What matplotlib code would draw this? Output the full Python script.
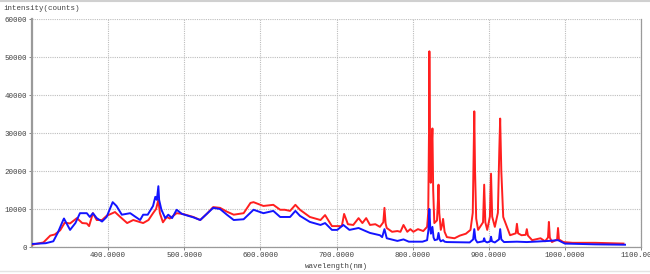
import matplotlib
matplotlib.use("Agg")
import matplotlib.pyplot as plt
from matplotlib.lines import Line2D

# ---- data ----
red_nm = [300, 315, 324, 330, 337, 343, 350, 359, 366, 372, 375, 380, 385, 392, 398,
          409, 416, 425, 433, 446, 453, 459, 463, 466, 468, 472, 477, 481, 490, 498,
          512, 521, 530, 538, 547, 556, 565, 578, 587, 591, 604, 617, 626, 632, 639,
          646, 652, 665, 679, 685, 694, 707, 710, 715, 722, 729, 734, 739, 744, 751,
          757, 761.5, 763, 764.5, 766, 773, 780, 784, 788, 793, 797, 801, 807, 814, 819,
          820.5, 821.5, 822, 822.8, 823.8, 825, 826, 827, 828.5, 832, 833.2, 834, 835, 837,
          839, 840, 842, 845, 855, 862, 870, 876, 879, 880.2, 881, 882, 883.5, 886,
          892.5, 894, 895.5, 898, 901.5, 903, 904.5, 908, 912, 913.8, 915, 916.5, 919,
          928, 935.5, 937, 938.5, 943, 948.5, 950, 951.5, 957, 968, 974, 977.8, 979,
          980.2, 983, 989.8, 991, 992.2, 998, 1010, 1040, 1077]
red_val = [600, 1200, 3000, 3300, 4400, 6400, 6200, 7600, 6300, 6200, 5500, 8900, 7100, 7100, 8200,
           9200, 7900, 6300, 7100, 6300, 7100, 8900, 10000, 12400, 8900, 6500, 7900, 7500, 8900, 8700,
           7900, 7100, 8800, 10500, 10300, 9300, 8500, 8900, 11600, 11800, 10800, 11100, 9800, 9800, 9500,
           11100, 9800, 7900, 7100, 8400, 5500, 5500, 8700, 6000, 5800, 7600, 6300, 7600, 5800, 6000,
           5300, 6500, 10300, 6200, 5000, 4000, 4200, 4000, 5800, 4000, 4700, 4000, 4700, 4200, 5300,
           9000, 30000, 51500, 30000, 16900, 26000, 31200, 15000, 6300, 7000, 12000, 16400, 9000, 4500,
           6000, 7400, 4000, 2600, 2300, 3000, 3500, 4500, 9000, 25000, 35700, 20000, 7500, 4500,
           6500, 16400, 6500, 4500, 8000, 19300, 8000, 5300, 9000, 25000, 33800, 20000, 7900,
           3100, 3600, 6100, 3600, 3100, 3200, 4700, 3000, 1800, 2300, 1500, 2500, 6600,
           2500, 1300, 2000, 5000, 2000, 1300, 1100, 1100, 900]

blue_nm = [300, 318, 328, 334, 341, 342, 350, 357, 363, 372, 376, 380, 385, 392, 398,
           406, 411, 418, 429, 442, 446, 452, 459, 462, 464, 466, 467, 470, 475, 479,
           484, 490, 497, 512, 521, 538, 547, 556, 565, 578, 591, 604, 617, 626, 639,
           646, 652, 665, 679, 685, 694, 701, 709, 717, 729, 737, 744, 757, 760, 763,
           766, 780, 788, 795, 813, 819, 820.8, 822, 823.2, 824, 826, 827.5, 829, 832.5, 834,
           835.5, 837, 840, 842, 845, 875, 879.5, 881, 882.5, 885, 892.8, 894, 895.2, 898,
           901.8, 903, 904.2, 908, 913.5, 915, 916.5, 920, 937, 950, 979, 991, 1000, 1040, 1079]
blue_val = [800, 1000, 1500, 3800, 7100, 7500, 4500, 6300, 8900, 8900, 7900, 8900, 7600, 6700, 7900,
            11800, 10800, 8500, 8900, 7100, 8500, 8500, 10800, 13200, 12400, 16000, 12400, 9800, 7600, 8500,
            7600, 9800, 8700, 7800, 7100, 10300, 10000, 8500, 7100, 7300, 9800, 8900, 9500, 7900, 7900,
            9500, 8200, 6600, 5800, 6300, 4500, 4500, 5800, 4500, 5000, 4300, 3700, 3100, 2600, 4700,
            2300, 1600, 2000, 1400, 1400, 1800, 4500, 10000, 5000, 3500, 5300, 2500, 1800, 2000, 3700,
            2000, 1500, 1800, 1400, 1300, 1200, 2000, 4700, 2000, 1200, 1500, 2300, 1500, 1200,
            1500, 2700, 1500, 1200, 2000, 4700, 2000, 1300, 1400, 1300, 1600, 1800, 900, 700, 600]

x_ticks = [400, 500, 600, 700, 800, 900, 1000, 1100]
x_tick_labels = ["400.0000", "500.0000", "600.0000", "700.0000", "800.0000",
                 "900.0000", "1000.0000", "1100.0000"]
y_ticks = [0, 10000, 20000, 30000, 40000, 50000, 60000]
y_tick_labels = ["0", "10000", "20000", "30000", "40000", "50000", "60000"]

# ---- figure ----
W, H = 650, 274
fig = plt.figure(figsize=(W / 100, H / 100), dpi=100)
fig.patch.set_facecolor("white")

left, right = 32 / W, 641 / W
bottom, top = (H - 247) / H, (H - 19) / H
ax = fig.add_axes([left, bottom, right - left, top - bottom])

font = ["Liberation Mono", "DejaVu Sans Mono"]

ax.plot(red_nm, red_val, color="#ff1f1f", lw=1.4, solid_joinstyle="round", zorder=3)
ax.plot(blue_nm, blue_val, color="#1414ff", lw=1.4, solid_joinstyle="round", zorder=4)

ax.set_xlim(300, 1100)
ax.set_ylim(0, 60000)
ax.set_xticks(x_ticks)
ax.set_xticklabels(x_tick_labels, fontfamily=font, fontsize=5.4, color="#404040")
ax.set_yticks(y_ticks)
ax.set_yticklabels(y_tick_labels, fontfamily=font, fontsize=5.4, color="#404040")
ax.tick_params(axis="both", length=2, width=0.6, color="#707070", pad=1.5)

ax.grid(True, color="#bdbdbd", linestyle=(0, (1, 1)), linewidth=0.8, zorder=0)
ax.set_axisbelow(True)

for s in ["top"]:
    ax.spines[s].set_visible(False)
ax.spines["left"].set_color("#9a9a9a")
ax.spines["left"].set_linewidth(1.6)
ax.spines["bottom"].set_color("#9a9a9a")
ax.spines["bottom"].set_linewidth(0.9)
ax.spines["right"].set_color("#9a9a9a")
ax.spines["right"].set_linewidth(0.9)

ax.set_xlabel("wavelength(nm)", fontfamily=font, fontsize=5.4, color="#404040", labelpad=3)
fig.text(3 / W, 1 - 8 / H, "intensity(counts)", fontfamily=font, fontsize=5.4,
         color="#404040", ha="left", va="center")

# light frame lines of the window
fig.add_artist(Line2D([0, 1], [1 - 1 / H, 1 - 1 / H], transform=fig.transFigure,
                      color="#d0d0d0", lw=1.5))
fig.add_artist(Line2D([0, 1], [3 / H, 3 / H], transform=fig.transFigure,
                      color="#e4e4e4", lw=1.0))

fig.savefig("out.png", dpi=100, facecolor="white")
